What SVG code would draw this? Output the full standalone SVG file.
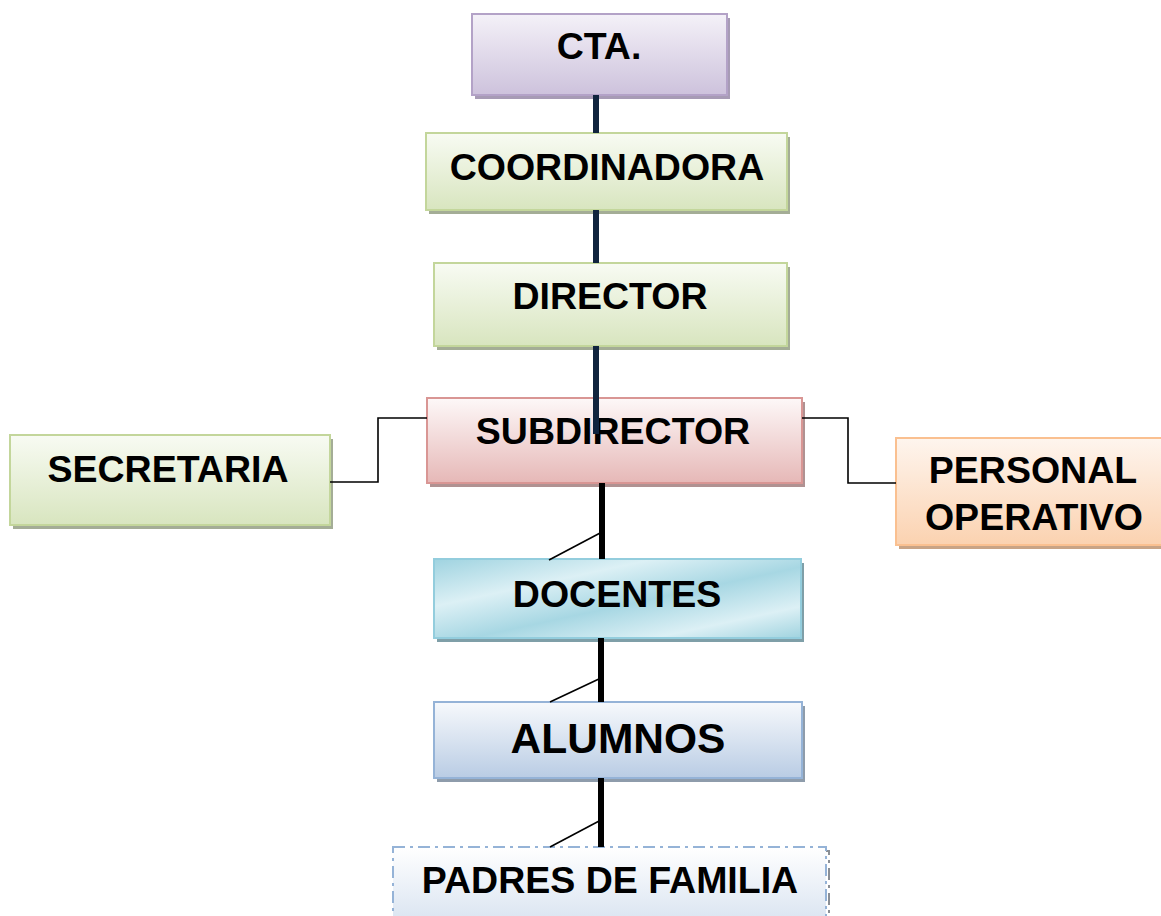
<svg xmlns="http://www.w3.org/2000/svg" width="1161" height="916" viewBox="0 0 1161 916">
<defs>
<linearGradient id="gPurple" x1="0" y1="0" x2="0" y2="1"><stop offset="0" stop-color="#f4f1f8"/><stop offset="1" stop-color="#cdc2dc"/></linearGradient>
<linearGradient id="gGreen" x1="0" y1="0" x2="0" y2="1"><stop offset="0" stop-color="#f8fbf3"/><stop offset="1" stop-color="#d8e5bf"/></linearGradient>
<linearGradient id="gPink" x1="0" y1="0" x2="0" y2="1"><stop offset="0" stop-color="#fdf8f8"/><stop offset="1" stop-color="#e6b8b7"/></linearGradient>
<linearGradient id="gOrange" x1="0" y1="0" x2="0" y2="1"><stop offset="0" stop-color="#fef5ee"/><stop offset="1" stop-color="#fbd2b0"/></linearGradient>
<linearGradient id="gTeal" x1="0" y1="0" x2="1" y2="1"><stop offset="0" stop-color="#9fd3e0"/><stop offset="0.3" stop-color="#dcf0f5"/><stop offset="0.55" stop-color="#a7d7e3"/><stop offset="0.8" stop-color="#dcf0f5"/><stop offset="1" stop-color="#a0d3df"/></linearGradient>
<linearGradient id="gBlue" x1="0" y1="0" x2="0" y2="1"><stop offset="0" stop-color="#f7f9fc"/><stop offset="1" stop-color="#b9cce4"/></linearGradient>
<linearGradient id="gBlueLight" x1="0" y1="0" x2="0" y2="1"><stop offset="0" stop-color="#ffffff"/><stop offset="1" stop-color="#dce6f2"/></linearGradient>
</defs>
<style>
.t{font-family:"Liberation Sans",Arial,sans-serif;font-weight:bold;font-size:37.5px;fill:#000;text-anchor:middle}
.sh{stroke:none}
.navy{stroke:#10243e;stroke-width:6;fill:none}
.blk{stroke:#000;stroke-width:6;fill:none}
.thin{stroke:#000;stroke-width:1.6;fill:none}
</style>
<g id="n-cta">
<rect x="475" y="18" width="255" height="81" fill="#a79bb5" class="sh"/>
<rect x="472" y="14" width="255" height="81" fill="url(#gPurple)" stroke="#b3a2c7" stroke-width="2"/>
<text class="t" x="599" y="59">CTA.</text>
</g>
<g id="n-coordinadora">
<rect x="429" y="137" width="361" height="77" fill="#a4ad96" class="sh"/>
<rect x="426" y="133" width="361" height="77" fill="url(#gGreen)" stroke="#c3d69b" stroke-width="2"/>
<text class="t" x="607" y="180">COORDINADORA</text>
</g>
<g id="n-director">
<rect x="437" y="267" width="353" height="83" fill="#a4ad96" class="sh"/>
<rect x="434" y="263" width="353" height="83" fill="url(#gGreen)" stroke="#c3d69b" stroke-width="2"/>
<text class="t" x="610" y="309">DIRECTOR</text>
</g>
<g id="n-subdirector">
<rect x="430" y="402" width="375" height="85" fill="#b09292" class="sh"/>
<rect x="427" y="398" width="375" height="85" fill="url(#gPink)" stroke="#d99694" stroke-width="2"/>
<text class="t" x="613" y="444">SUBDIRECTOR</text>
</g>
<g id="n-secretaria">
<rect x="13" y="439" width="320" height="90" fill="#a4ad96" class="sh"/>
<rect x="10" y="435" width="320" height="90" fill="url(#gGreen)" stroke="#c3d69b" stroke-width="2"/>
<text class="t" x="168" y="482">SECRETARIA</text>
</g>
<g id="n-personal">
<rect x="899" y="442" width="270" height="107" fill="#c9a486" class="sh"/>
<rect x="896" y="438" width="270" height="107" fill="url(#gOrange)" stroke="#fac090" stroke-width="2"/>
<text class="t" x="1033" y="483">PERSONAL</text>
<text class="t" x="1034" y="530">OPERATIVO</text>
</g>
<g id="n-docentes">
<rect x="437" y="563" width="367" height="79" fill="#7f9fa8" class="sh"/>
<rect x="434" y="559" width="367" height="79" fill="url(#gTeal)" stroke="#93cddd" stroke-width="2"/>
<text class="t" x="617" y="607">DOCENTES</text>
</g>
<g id="n-alumnos">
<rect x="437" y="706" width="368" height="76" fill="#8e9cab" class="sh"/>
<rect x="434" y="702" width="368" height="76" fill="url(#gBlue)" stroke="#95b3d7" stroke-width="2"/>
<text class="t" x="618" y="753" style="font-size:42.5px">ALUMNOS</text>
</g>
<g id="n-padres">
<rect x="396" y="851" width="433" height="70" fill="none" stroke="#8a8f96" stroke-width="2" stroke-dasharray="12,5,3,5"/>
<rect x="393" y="847" width="433" height="70" fill="url(#gBlueLight)" stroke="#95b3d7" stroke-width="2" stroke-dasharray="12,5,3,5"/>
<text class="t" x="610" y="893">PADRES DE FAMILIA</text>
</g>
<g id="connectors">
<line class="navy" x1="596" y1="95" x2="596" y2="133"/>
<line class="navy" x1="596" y1="210" x2="596" y2="263"/>
<line class="navy" x1="596" y1="346" x2="596" y2="434"/>
<polyline class="thin" points="330,482 378,482 378,418 427,418"/>
<polyline class="thin" points="802,418 848,418 848,483 896,483"/>
<line class="blk" x1="602" y1="483" x2="602" y2="559"/>
<line class="thin" x1="549" y1="560" x2="602" y2="532"/>
<line class="blk" x1="601" y1="638" x2="601" y2="702"/>
<line class="thin" x1="550" y1="702" x2="601" y2="678"/>
<line class="blk" x1="601" y1="778" x2="601" y2="847"/>
<line class="thin" x1="550" y1="847" x2="601" y2="820"/>
</g>
</svg>
